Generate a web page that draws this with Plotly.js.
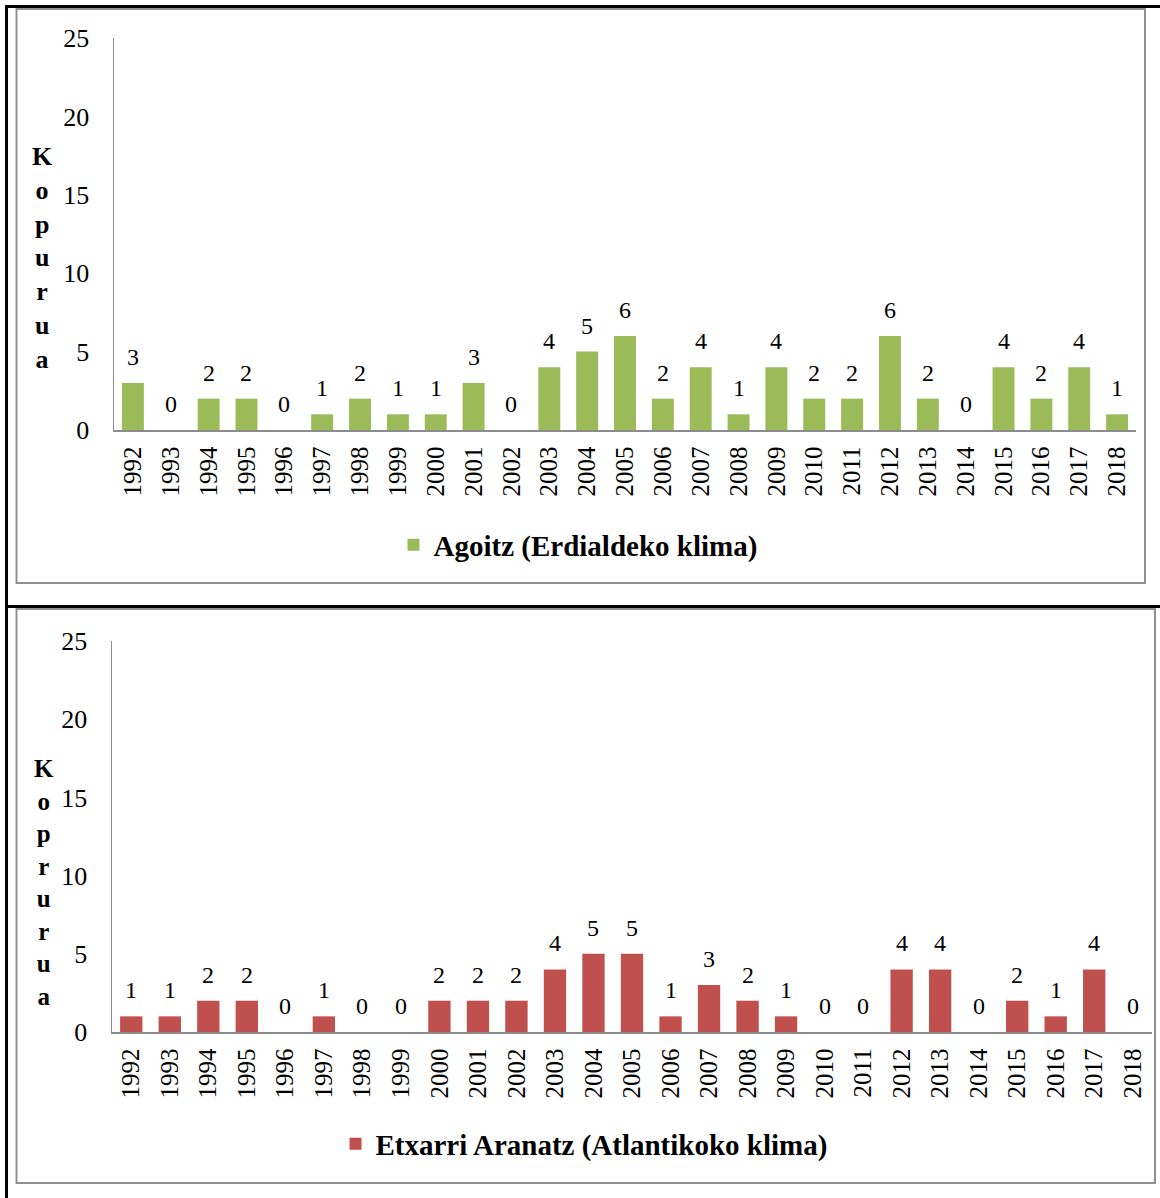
<!DOCTYPE html>
<html>
<head>
<meta charset="utf-8">
<script src="https://cdn.plot.ly/plotly-3.0.1.min.js"></script>
<style>
  html, body { margin: 0; padding: 0; background: #ffffff; }
  #chart { width: 1160px; height: 1198px; }
</style>
</head>
<body>
<div id="chart"></div>
<script>
// ---- Data ----
const years = ["1992","1993","1994","1995","1996","1997","1998","1999","2000","2001","2002","2003","2004","2005","2006","2007","2008","2009","2010","2011","2012","2013","2014","2015","2016","2017","2018"];
const agoitzValues = [3,0,2,2,0,1,2,1,1,3,0,4,5,6,2,4,1,4,2,2,6,2,0,4,2,4,1];
const etxarriValues = [1,1,2,2,0,1,0,0,2,2,2,4,5,5,1,3,2,1,0,0,4,4,0,2,1,4,0];
const agoitzName = "Agoitz (Erdialdeko klima)";
const etxarriName = "Etxarri Aranatz (Atlantikoko klima)";
const yTicks = [0,5,10,15,20,25];
const yTitleTop = "Kopurua";
const yTitleBottom = "Koprurua";

// ---- Layout helpers ----
const W = 1160, H = 1198;
const px = v => v / W;
const py = v => 1 - v / H;
const FONT = "'Liberation Serif', 'Times New Roman', serif";

const traces = [
  { type: "bar", x: years, y: agoitzValues, name: agoitzName, xaxis: "x", yaxis: "y",
    marker: { color: "#9BBB59" }, legend: "legend" },
  { type: "bar", x: years, y: etxarriValues, name: etxarriName, xaxis: "x2", yaxis: "y2",
    marker: { color: "#C0504D" }, legend: "legend2" }
];

function xAxis(domain, anchor) {
  return {
    domain: domain, anchor: anchor, type: "category",
    categoryorder: "array", categoryarray: years,
    range: [-0.5, years.length - 0.5], autorange: false,
    showline: true, linecolor: "#8c8c8c", linewidth: 1.5,
    showgrid: false, zeroline: false, ticks: "",
    tickangle: -90, ticklabelstandoff: 5,
    tickfont: { family: FONT, size: 25, color: "#000" },
    fixedrange: true
  };
}
function yAxis(domain, anchor) {
  return {
    domain: domain, anchor: anchor, range: [0, 25], autorange: false,
    tickvals: yTicks, ticktext: yTicks.map(String),
    showline: true, linecolor: "#8c8c8c", linewidth: 1.5,
    showgrid: false, zeroline: false, ticks: "",
    ticklabelstandoff: 18,
    tickfont: { family: FONT, size: 26, color: "#000" },
    fixedrange: true
  };
}

const annotations = [];
years.forEach((yr, i) => {
  annotations.push({ x: i, y: agoitzValues[i], xref: "x", yref: "y", text: String(agoitzValues[i]),
    showarrow: false, yanchor: "middle", yshift: 26, font: { family: FONT, size: 24, color: "#000" } });
  annotations.push({ x: i, y: etxarriValues[i], xref: "x2", yref: "y2", text: String(etxarriValues[i]),
    showarrow: false, yanchor: "middle", yshift: 26, font: { family: FONT, size: 24, color: "#000" } });
});
annotations.push({ xref: "paper", yref: "paper", x: px(42), y: py(258), xanchor: "center", yanchor: "middle",
  text: "<b>" + yTitleTop.split("").join("<br>") + "</b>", showarrow: false,
  font: { family: FONT, size: 26, color: "#000" } });
annotations.push({ xref: "paper", yref: "paper", x: px(44), y: py(882), xanchor: "center", yanchor: "middle",
  text: "<b>" + yTitleBottom.split("").join("<br>") + "</b>", showarrow: false,
  font: { family: FONT, size: 25, color: "#000" } });

const shapes = [
  // inner grey frames
  { type: "rect", xref: "paper", yref: "paper", x0: px(16.5), x1: px(1145), y0: py(583), y1: py(9),
    line: { color: "#8f8f8f", width: 2 }, fillcolor: "rgba(0,0,0,0)" },
  { type: "rect", xref: "paper", yref: "paper", x0: px(16.5), x1: px(1155), y0: py(1183), y1: py(609),
    line: { color: "#8f8f8f", width: 2 }, fillcolor: "rgba(0,0,0,0)" },
  // outer black lines
  { type: "line", xref: "paper", yref: "paper", x0: px(5), x1: px(1160), y0: py(6.5), y1: py(6.5),
    line: { color: "#000", width: 3 } },
  { type: "line", xref: "paper", yref: "paper", x0: px(6.5), x1: px(6.5), y0: py(5), y1: py(1198),
    line: { color: "#000", width: 3 } },
  { type: "line", xref: "paper", yref: "paper", x0: px(5), x1: px(1160), y0: py(606.5), y1: py(606.5),
    line: { color: "#000", width: 3 } }
];

const layout = {
  width: W, height: H,
  margin: { l: 0, r: 0, t: 0, b: 0 },
  paper_bgcolor: "#ffffff", plot_bgcolor: "rgba(0,0,0,0)",
  font: { family: FONT, color: "#000" },
  bargap: 0.42,
  showlegend: true,
  xaxis: xAxis([px(114), px(1136)], "y"),
  yaxis: yAxis([py(430), py(38)], "x"),
  xaxis2: xAxis([px(112), px(1152)], "y2"),
  yaxis2: yAxis([py(1032), py(641)], "x2"),
  legend: { x: px(578), y: py(545), xanchor: "center", yanchor: "middle", orientation: "h",
    font: { family: FONT, size: 29, color: "#000", weight: "bold" }, bgcolor: "rgba(0,0,0,0)",
    itemwidth: 30 },
  legend2: { x: px(584), y: py(1144), xanchor: "center", yanchor: "middle", orientation: "h",
    font: { family: FONT, size: 29, color: "#000", weight: "bold" }, bgcolor: "rgba(0,0,0,0)",
    itemwidth: 30 },
  annotations: annotations,
  shapes: shapes
};

Plotly.newPlot("chart", traces, layout, { displayModeBar: false, staticPlot: true });
</script>
</body>
</html>
